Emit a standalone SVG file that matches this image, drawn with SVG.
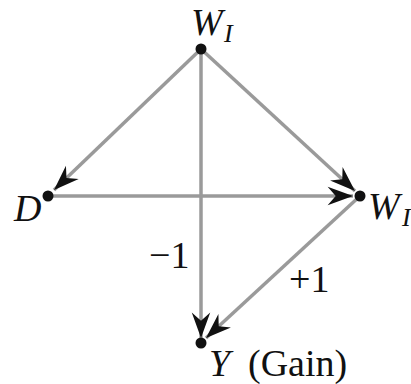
<svg xmlns="http://www.w3.org/2000/svg" width="411" height="384" viewBox="0 0 411 384">
<defs>
<style>
.edge{stroke:#9a9a9a;stroke-width:3.5;fill:none;marker-end:url(#arr)}
.dot{fill:#111}
</style>
<marker id="arr" markerUnits="userSpaceOnUse" markerWidth="30" markerHeight="30" viewBox="-24 -10 26 20" refX="0" refY="0" orient="auto">
<path d="M0,0 L-22,-8 L-15,0 L-22,8 Z" fill="#111"/>
</marker>
</defs>
<rect width="411" height="384" fill="#fff"/>
<g id="connectors">
<line class="edge" x1="201" y1="49" x2="54" y2="190"/>
<line class="edge" x1="201" y1="49" x2="355" y2="191"/>
<line class="edge" x1="48" y1="196" x2="353" y2="196"/>
<line class="edge" x1="201" y1="49" x2="201" y2="338"/>
<line class="edge" x1="360" y1="196" x2="206" y2="338"/>
</g>
<g font-family="Liberation Serif, Times New Roman, DejaVu Serif, serif" fill="#111" font-size="38">
<g id="node-WI-top"><circle class="dot" cx="201" cy="49" r="5.5"/><text font-style="italic" x="191" y="35">W</text><text font-style="italic" font-size="26" x="224" y="42">I</text></g>
<g id="node-D"><circle class="dot" cx="48" cy="196" r="5.5"/><text font-style="italic" x="14" y="221">D</text></g>
<g id="node-WI-right"><circle class="dot" cx="360" cy="196" r="5.5"/><text font-style="italic" x="368" y="219">W</text><text font-style="italic" font-size="26" x="402" y="226">I</text></g>
<g id="node-Y"><circle class="dot" cx="201" cy="343" r="5.5"/><text font-style="italic" x="209" y="376">Y</text><text x="248" y="376">(Gain)</text></g>
<g id="labels"><text x="149" y="268">−1</text><text x="289" y="292">+1</text></g>
</g>
</svg>
